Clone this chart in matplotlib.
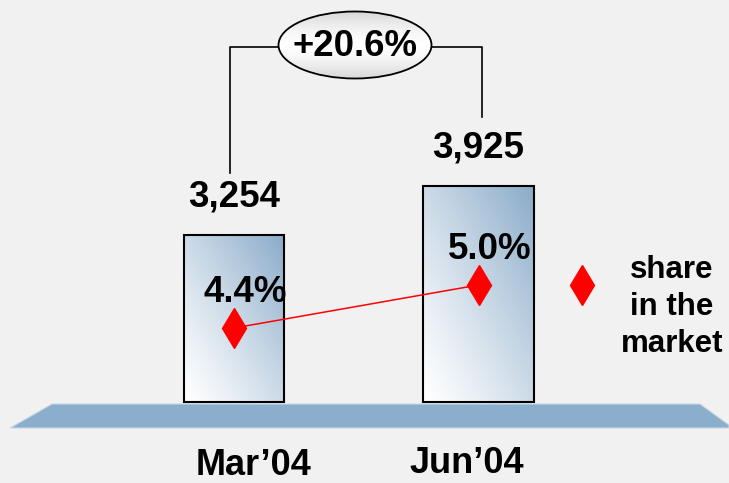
import numpy as np
import matplotlib.pyplot as plt
from matplotlib.patches import Rectangle, Ellipse, Polygon

plt.rcParams['font.family'] = ['Liberation Sans', 'DejaVu Sans']
plt.rcParams['font.weight'] = 'bold'

# datos
periodos = ['Mar\u201904', 'Jun\u201904']
clientes = [3254, 3925]
cuota = [4.4, 5.0]
etiqueta_crec = '+20.6%'
etiqueta_cuota = 'share\nin the\nmarket'

W, H = 729, 483
fondo = '#f1f1f1'
azul = '#8aaecb'

fig = plt.figure(figsize=(W / 100, H / 100), dpi=100, facecolor=fondo)

# capa de decorado en pixeles
deco = fig.add_axes([0, 0, 1, 1], zorder=0)
deco.set_xlim(0, W)
deco.set_ylim(H, 0)
deco.axis('off')
deco.set_facecolor(fondo)

# suelo
deco.add_patch(Polygon([[10, 428], [52, 404], [700, 404], [729, 425], [729, 428]],
                       closed=True, facecolor=azul, edgecolor='#c9d8e6', lw=0.8))

# ejes de datos
ax = fig.add_axes([0, 0, 1, 1], zorder=1)
ax.patch.set_alpha(0)
base = 967
px_x = 244.5                # pixeles por categoria
px_y = 167 / (3254 - base)  # pixeles por unidad
x0 = 234
ax.set_xlim(-x0 / px_x, (W - x0) / px_x)
ax.set_ylim(base - (H - 402) / px_y, base + 402 / px_y)
ax.axis('off')

anchos = [100 / px_x, 111 / px_x]
xs = np.arange(len(periodos))
barras = ax.bar(xs, [v - base for v in clientes], bottom=base, width=anchos,
                facecolor='none', edgecolor='black', lw=1.5, zorder=3)

# degradado de las barras
gx, gy = np.meshgrid(np.linspace(0, 1, 100), np.linspace(0, 1, 100))
g = np.clip(0.5 * gx + 0.5 * gy, 0, 1) ** 1.2
c_bl = np.array([1.0, 1.0, 1.0])
c_tr = np.array([0x8a, 0xab, 0xc9]) / 255
img = c_bl[None, None, :] * (1 - g[..., None]) + c_tr[None, None, :] * g[..., None]
for b in barras:
    x, y = b.get_x(), b.get_y()
    im = ax.imshow(img, extent=[x, x + b.get_width(), y, y + b.get_height()],
                   origin='lower', aspect='auto', zorder=2)
    im.set_clip_path(b)
ax.set_xlim(-x0 / px_x, (W - x0) / px_x)
ax.set_ylim(base - (H - 402) / px_y, base + 402 / px_y)

for i, v in enumerate(clientes):
    ax.annotate(f'{v:,}', (xs[i], v), xytext=(0, 27.5), textcoords='offset points',
                ha='center', va='center', fontsize=26.5, fontweight='bold')

off_cat = [(14, -45.5), (-8.5, -44)]
for i, p in enumerate(periodos):
    ax.annotate(p, (xs[i], base), xytext=off_cat[i], textcoords='offset points',
                ha='center', va='center', fontsize=26, fontweight='bold')

# cuota de mercado
ax2 = ax.twinx()
ax2.set_zorder(2)
ax2.patch.set_alpha(0)
px_c = 43 / 0.6
ax2.set_ylim(4.4 - (H - 328) / px_c, 4.4 + 328 / px_c)
ax2.axis('off')
ax2.plot(xs, cuota, color='red', lw=1.1, zorder=4)
ax2.plot(xs, cuota, 'd', color='red', ms=20.5, zorder=5)
for i, c in enumerate(cuota):
    ax2.annotate(f'{c:.1f}%', (xs[i], c), xytext=(8, 25.5), textcoords='offset points',
                 ha='center', va='center', fontsize=26.5, fontweight='bold')

# leyenda
deco.plot([582], [285], 'd', color='red', ms=20.5)
deco.text(672, 307, etiqueta_cuota, ha='center', va='center', fontsize=22.5,
          fontweight='bold', linespacing=1.3)

# corchete de crecimiento
deco.plot([230, 230, 282], [173, 47, 47], color='black', lw=1.2)
deco.plot([430, 482, 482], [47, 47, 117], color='black', lw=1.2)
elip = Ellipse((355, 45), 153, 67, facecolor='none', edgecolor='black', lw=1.3, zorder=3)
deco.add_patch(elip)
ey = np.linspace(0, 1, 100)
eg = 1 - 0.16 * (2 * np.abs(ey - 0.5)) ** 1.5
eimg = np.repeat(eg[:, None], 10, axis=1)
eim = deco.imshow(eimg, extent=[278, 432, 11, 79], cmap='gray', vmin=0, vmax=1,
                  aspect='auto', zorder=2)
eim.set_clip_path(elip)
deco.set_xlim(0, W)
deco.set_ylim(H, 0)
deco.text(355, 46, etiqueta_crec, ha='center', va='center', fontsize=26.3,
          fontweight='bold', zorder=4)

fig.savefig('out.png', dpi=100, facecolor=fondo)
